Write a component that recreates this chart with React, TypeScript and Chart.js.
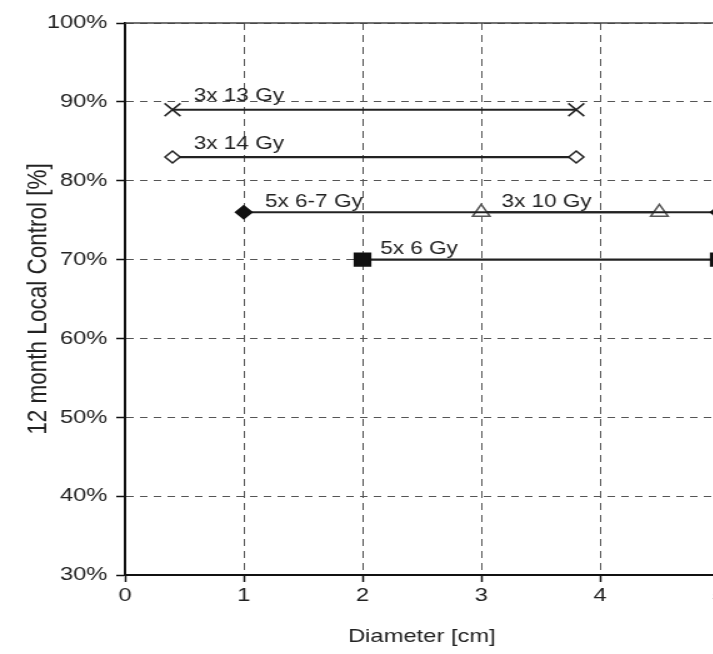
import React, { useEffect, useRef } from "react";
import { Chart, registerables } from "chart.js";

Chart.register(...registerables);

// ---- data ----
const xMin = 0;
const xMax = 5;
const yMin = 30;
const yMax = 100;

const seriesNames = ["3x 13 Gy", "3x 14 Gy", "5x 6-7 Gy", "3x 10 Gy", "5x 6 Gy"];
const x3x13 = [0.4, 3.8];
const y3x13 = [89, 89];
const x3x14 = [0.4, 3.8];
const y3x14 = [83, 83];
const x5x67 = [1.0, 5.0];
const y5x67 = [76, 76];
const x3x10 = [3.0, 4.5];
const y3x10 = [76, 76];
const x5x6 = [2.0, 5.0];
const y5x6 = [70, 70];

// annotation labels (data coordinates)
const labelTexts = ["3x 13 Gy", "3x 14 Gy", "5x 6-7 Gy", "3x 10 Gy", "5x 6 Gy"];
const labelXs = [0.58, 0.58, 1.18, 3.17, 2.15];
const labelYs = [90.8, 84.7, 77.3, 77.3, 71.3];

const xTitle = "Diameter [cm]";
const yTitle = "12 month Local Control [%]";

// ---- styles ----
const FONT = "'Liberation Sans', Arial, sans-serif";
const STRETCH = 1.25;
const INNER_W = 720;
const H = 654;

const pts = (xs: number[], ys: number[]) => xs.map((x, i) => ({ x, y: ys[i] }));

const labelPlugin = {
  id: "labels",
  afterDatasetsDraw(chart: any) {
    const { ctx, scales } = chart;
    ctx.save();
    ctx.font = `18px ${FONT}`;
    ctx.fillStyle = "#222";
    ctx.textBaseline = "middle";
    ctx.textAlign = "left";
    labelTexts.forEach((t, i) => {
      ctx.fillText(t, scales.x.getPixelForValue(labelXs[i]), scales.y.getPixelForValue(labelYs[i]));
    });
    ctx.restore();
  },
};

const framePlugin = {
  id: "frame",
  beforeDatasetsDraw(chart: any) {
    const { ctx, chartArea } = chart;
    ctx.save();
    ctx.strokeStyle = "#444";
    ctx.lineWidth = 1.5;
    ctx.beginPath();
    ctx.moveTo(chartArea.left, chartArea.top);
    ctx.lineTo(chartArea.right, chartArea.top);
    ctx.lineTo(chartArea.right, chartArea.bottom);
    ctx.stroke();
    ctx.restore();
  },
};

export default function App() {
  const ref = useRef<HTMLCanvasElement>(null);

  useEffect(() => {
    if (!ref.current) return;
    const common = {
      showLine: true,
      borderColor: "#222",
      borderWidth: 2.2,
      pointBorderWidth: 1.5,
      fill: false,
      clip: false,
    };
    const chart = new Chart(ref.current, {
      type: "scatter",
      data: {
        datasets: [
          {
            ...common,
            label: seriesNames[0],
            data: pts(x3x13, y3x13),
            pointStyle: "crossRot",
            pointRadius: 9,
            pointBorderColor: "#222",
            pointBackgroundColor: "#222",
          },
          {
            ...common,
            label: seriesNames[1],
            data: pts(x3x14, y3x14),
            pointStyle: "rectRot",
            pointRadius: 6,
            pointBorderColor: "#222",
            pointBackgroundColor: "#fff",
          },
          {
            ...common,
            label: seriesNames[2],
            data: pts(x5x67, y5x67),
            pointStyle: "rectRot",
            pointRadius: 6.5,
            pointBorderColor: "#111",
            pointBackgroundColor: "#111",
          },
          {
            ...common,
            label: seriesNames[3],
            data: pts(x3x10, y3x10),
            pointStyle: "triangle",
            pointRadius: 8,
            pointBorderColor: "#555",
            pointBackgroundColor: "#fff",
          },
          {
            ...common,
            label: seriesNames[4],
            data: pts(x5x6, y5x6),
            pointStyle: "rect",
            pointRadius: 9,
            pointBorderColor: "#111",
            pointBackgroundColor: "#111",
          },
        ],
      },
      options: {
        responsive: false,
        animation: false,
        events: [],
        layout: { padding: { left: 0, right: 145, top: 23, bottom: 0 } },
        plugins: {
          legend: { display: false },
          tooltip: { enabled: false },
        },
        scales: {
          x: {
            type: "linear",
            min: xMin,
            max: xMax,
            afterFit: (s: any) => {
              s.height = 79;
            },
            ticks: {
              stepSize: 1,
              color: "#222",
              font: { family: FONT, size: 19 },
              padding: 2,
            },
            grid: {
              color: "#555",
              lineWidth: 1,
              tickLength: 7,
              tickColor: "#111",
              tickWidth: 1.5,
            },
            border: { display: true, color: "#111", width: 2, dash: [7, 5] },
            title: {
              display: true,
              text: xTitle,
              color: "#222",
              font: { family: FONT, size: 19 },
              padding: { top: 0, bottom: 6 },
            },
          },
          y: {
            type: "linear",
            min: yMin,
            max: yMax,
            afterFit: (s: any) => {
              s.width = 100;
            },
            ticks: {
              stepSize: 10,
              color: "#222",
              font: { family: FONT, size: 19 },
              padding: 7,
              callback: (v: any) => `${v}%`,
            },
            grid: {
              color: "#555",
              lineWidth: 1,
              tickLength: 7,
              tickColor: "#111",
              tickWidth: 1.5,
            },
            border: { display: true, color: "#111", width: 2, dash: [6, 5] },
            title: {
              display: true,
              text: yTitle,
              color: "#222",
              font: { family: FONT, size: 22.5 },
              padding: { top: 17, bottom: 0 },
            },
          },
        },
      },
      plugins: [framePlugin, labelPlugin],
    } as any);
    return () => chart.destroy();
  }, []);

  return (
    <div
      style={{
        position: "fixed",
        left: 0,
        top: 0,
        width: 713,
        height: 654,
        overflow: "hidden",
        background: "#fff",
      }}
    >
      <canvas
        ref={ref}
        width={INNER_W}
        height={H}
        style={{ width: INNER_W * STRETCH + "px", height: H + "px", display: "block" }}
      />
    </div>
  );
}
